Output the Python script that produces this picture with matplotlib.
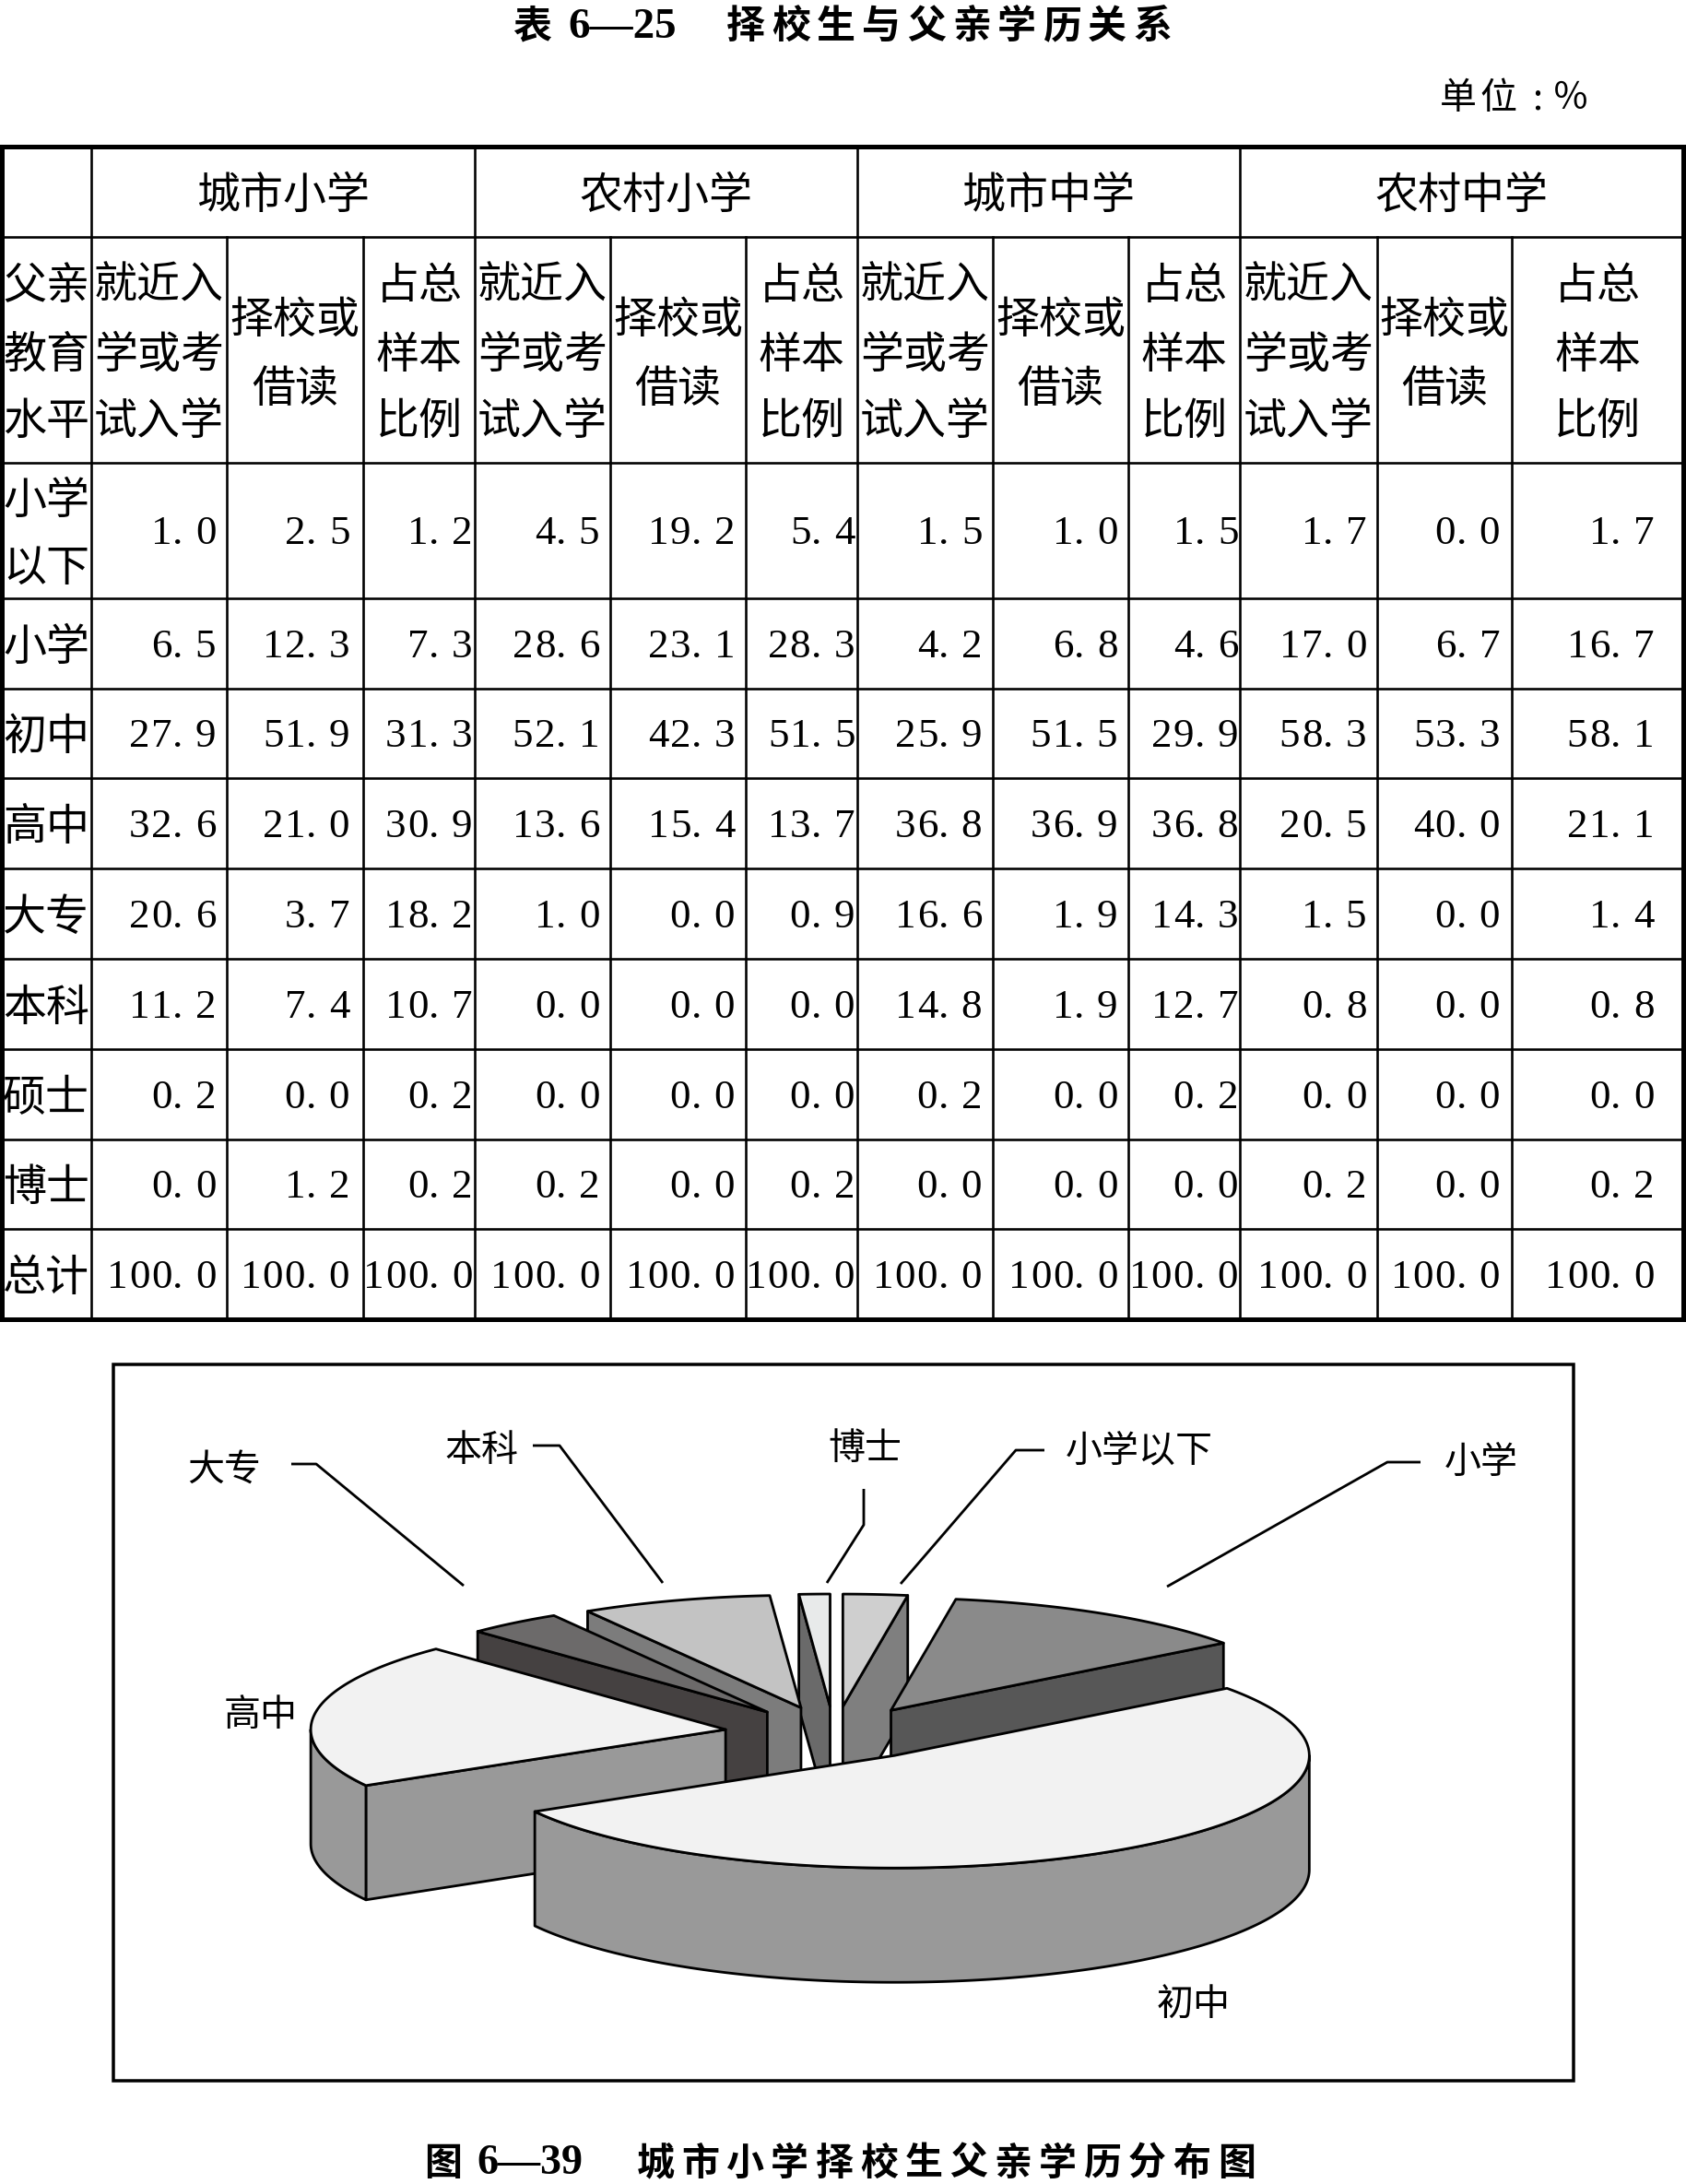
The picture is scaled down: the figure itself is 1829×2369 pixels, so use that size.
import numpy as np
import matplotlib
matplotlib.use('Agg')
import matplotlib.pyplot as plt
from matplotlib.patches import Polygon, Rectangle

plt.rcParams['font.family'] = ['Noto Sans CJK SC', 'DejaVu Sans']

# ---- data (表 6-25) ----
row_labels = ['小学以下', '小学', '初中', '高中', '大专', '本科', '硕士', '博士', '总计']
groups = ['城市小学', '农村小学', '城市中学', '农村中学']

city_primary_near = [1.0, 6.5, 27.9, 32.6, 20.6, 11.2, 0.2, 0.0, 100.0]
city_primary_choice = [2.5, 12.3, 51.9, 21.0, 3.7, 7.4, 0.0, 1.2, 100.0]
city_primary_share = [1.2, 7.3, 31.3, 30.9, 18.2, 10.7, 0.2, 0.2, 100.0]
rural_primary_near = [4.5, 28.6, 52.1, 13.6, 1.0, 0.0, 0.0, 0.2, 100.0]
rural_primary_choice = [19.2, 23.1, 42.3, 15.4, 0.0, 0.0, 0.0, 0.0, 100.0]
rural_primary_share = [5.4, 28.3, 51.5, 13.7, 0.9, 0.0, 0.0, 0.2, 100.0]
city_middle_near = [1.5, 4.2, 25.9, 36.8, 16.6, 14.8, 0.2, 0.0, 100.0]
city_middle_choice = [1.0, 6.8, 51.5, 36.9, 1.9, 1.9, 0.0, 0.0, 100.0]
city_middle_share = [1.5, 4.6, 29.9, 36.8, 14.3, 12.7, 0.2, 0.0, 100.0]
rural_middle_near = [1.7, 17.0, 58.3, 20.5, 1.5, 0.8, 0.0, 0.2, 100.0]
rural_middle_choice = [0.0, 6.7, 53.3, 40.0, 0.0, 0.0, 0.0, 0.0, 100.0]
rural_middle_share = [1.7, 16.7, 58.1, 21.1, 1.4, 0.8, 0.0, 0.2, 100.0]

table_cols = [city_primary_near, city_primary_choice, city_primary_share,
              rural_primary_near, rural_primary_choice, rural_primary_share,
              city_middle_near, city_middle_choice, city_middle_share,
              rural_middle_near, rural_middle_choice, rural_middle_share]

# pie (图 6-39): 城市小学 择校或借读
pie_labels = row_labels[:8]
pie_values = city_primary_choice[:8]
top_colors = ['#cfcfcf', '#8a8a8a', '#f2f2f2', '#f2f2f2', '#6c6a6a', '#c3c3c3', '#a0a0a0', '#e8eaea']
side_colors = ['#7f7f7f', '#575757', '#999999', '#999999', '#454141', '#7c7c7c', '#606060', '#6a6a6a']

# ---- figure in pixel coordinates ----
W, H = 1829, 2369
fig = plt.figure(figsize=(W / 100, H / 100), dpi=100)
ax = fig.add_axes([0, 0, 1, 1])
ax.set_xlim(0, W)
ax.set_ylim(H, 0)
ax.axis('off')

PT = 0.72  # points per pixel at dpi 100


def line(xs, ys, lw_px, z=5):
    ax.plot(xs, ys, color='black', lw=lw_px * PT, solid_capstyle='projecting', zorder=z)


def cjk(x, yc, s, size_px, ha='center', weight='normal'):
    ax.text(x, yc + 0.38 * size_px, s, fontsize=size_px * PT, ha=ha, va='baseline',
            fontweight=weight)


# ---- titles ----
TITLE_PX = 42
cjk(577, 25, '表', TITLE_PX, weight='bold')
ax.text(675, 25 + 0.33 * 47, '6—25', fontsize=47 * PT, family='Liberation Serif',
        fontweight='bold', ha='center', va='baseline')
for i, ch in enumerate('择校生与父亲学历关系'):
    cjk(809 + 49 * i, 25, ch, TITLE_PX, weight='bold')

UNIT_PX = 40
for ch, xc in zip(['单', '位', ':', '％'], [1582, 1625, 1668, 1704]):
    cjk(xc, 103, ch, UNIT_PX)

# ---- table ----
col_x = [2, 99, 246, 394, 515, 662, 809, 930, 1077, 1224, 1345, 1494, 1640, 1826]
row_y = [159, 257, 502, 649, 747, 844, 942, 1040, 1138, 1236, 1333, 1431]
THICK, THIN = 5, 2.6

line([col_x[0], col_x[-1]], [row_y[0]] * 2, THICK)
line([col_x[0], col_x[-1]], [row_y[-1]] * 2, THICK)
for y in row_y[1:-1]:
    line([col_x[0], col_x[-1]], [y] * 2, THIN)
line([col_x[0]] * 2, [row_y[0], row_y[-1]], THICK)
line([col_x[-1]] * 2, [row_y[0], row_y[-1]], THICK)
for j, x in enumerate(col_x[1:-1], start=1):
    top = row_y[0] if (j - 1) % 3 == 0 else row_y[1]
    line([x, x], [top, row_y[-1]], THIN)

CELL_PX = 47
for g, name in enumerate(groups):
    xc = (col_x[1 + 3 * g] + col_x[4 + 3 * g]) / 2
    cjk(xc, 208, name, CELL_PX)

sub_lines = {
    'near': (['就近入', '学或考', '试入学'], [306, 381, 453]),
    'choice': (['择校或', '借读'], [343, 418]),
    'share': (['占总', '样本', '比例'], [306, 381, 453]),
}
for t, y in zip(['父亲', '教育', '水平'], [306, 381, 453]):
    cjk(50, y, t, CELL_PX)
for j in range(12):
    kind = ['near', 'choice', 'share'][j % 3]
    xc = (col_x[j + 1] + col_x[j + 2]) / 2
    for t, y in zip(*sub_lines[kind]):
        cjk(xc, y, t, CELL_PX)

# row labels
for i, lab in enumerate(row_labels):
    y0, y1 = row_y[i + 2], row_y[i + 3]
    if len(lab) == 4:
        cjk(50, y0 + 37, lab[:2], CELL_PX)
        cjk(50, y1 - 37, lab[2:], CELL_PX)
    else:
        cjk(50, (y0 + y1) / 2, lab, CELL_PX)

# numbers: fixed pitch, right aligned
NUM_PITCH = 24
NUM_PX = 45
NUM_PAD = [12, 15, 3, 12, 12, 3, 12, 12, 2, 12, 13, 32]
for j, vals in enumerate(table_cols):
    x_right = col_x[j + 2] - NUM_PAD[j] + 1
    for i, v in enumerate(vals):
        yc = (row_y[i + 2] + row_y[i + 3]) / 2
        s = f'{v:.1f}'
        for k, ch in enumerate(reversed(s)):
            xc = x_right - (k + 0.5) * NUM_PITCH
            if ch == '.':
                xc -= 6
            ax.text(xc, yc + 0.33 * NUM_PX, ch, family='Liberation Serif',
                    fontsize=NUM_PX * PT, ha='center', va='baseline')

# ---- chart frame ----
ax.add_patch(Rectangle((123, 1480), 1707 - 123, 2257 - 1480, fill=False,
                       lw=3.5 * PT, ec='black', zorder=2))

# ---- exploded 3-D pie ----
PIE_CX, PIE_CY = 905, 1880
RX, RY, DEPTH = 450, 122, 124
EXP_X, EXP_Y = 119, 29
EDGE = 2.8 * PT


def rim(px, py, t):
    return px + RX * np.sin(t), py - RY * np.cos(t)


def arc(px, py, t0, t1, dy=0.0):
    ts = np.linspace(t0, t1, max(int(np.degrees(t1 - t0)) * 2, 4))
    xs, ys = rim(px, py, ts)
    return list(zip(xs, ys + dy))


slices = []
cum = 0.0
for lab, v, tc, sc in zip(pie_labels, pie_values, top_colors, side_colors):
    if v <= 0:
        continue
    t1 = np.radians(cum / 100 * 360)
    t2 = np.radians((cum + v) / 100 * 360)
    cum += v
    mid = (t1 + t2) / 2
    apx = PIE_CX + EXP_X * np.sin(mid)
    apy = PIE_CY - EXP_Y * np.cos(mid)
    slices.append(dict(t1=t1, t2=t2, mid=mid, ap=(apx, apy), top=tc, side=sc))

# back slices first
slices.sort(key=lambda s: -np.cos(s['mid']))
z = 10
for s in slices:
    apx, apy = s['ap']
    faces = []
    if np.sin(s['t1']) < -1e-6:
        faces.append(s['t1'])
    if np.sin(s['t2']) > 1e-6:
        faces.append(s['t2'])
    for t in faces:
        rx_, ry_ = rim(apx, apy, t)
        pts = [(apx, apy), (rx_, ry_), (rx_, ry_ + DEPTH), (apx, apy + DEPTH)]
        ax.add_patch(Polygon(pts, closed=True, fc=s['side'], ec='black', lw=EDGE,
                             joinstyle='round', zorder=z))
        z += 1
    a0 = max(s['t1'], np.pi / 2)
    a1 = min(s['t2'], 3 * np.pi / 2)
    if a1 > a0:
        pts = arc(apx, apy, a0, a1) + arc(apx, apy, a0, a1, DEPTH)[::-1]
        ax.add_patch(Polygon(pts, closed=True, fc=s['side'], ec='black', lw=EDGE,
                             joinstyle='round', zorder=z))
        z += 1
    pts = [(apx, apy)] + arc(apx, apy, s['t1'], s['t2'])
    ax.add_patch(Polygon(pts, closed=True, fc=s['top'], ec='black', lw=EDGE,
                         joinstyle='round', zorder=z))
    z += 1

# ---- pie labels and leader lines ----
LABEL_PX = 40
label_pos = {
    '大专': (243, 1590), '本科': (523, 1570), '博士': (938, 1568),
    '小学以下': (1236, 1570), '小学': (1607, 1583), '高中': (283, 1857),
    '初中': (1295, 2172),
}
leaders = {
    '大专': [(316, 1588), (343, 1588), (503, 1720)],
    '本科': [(578, 1568), (607, 1568), (719, 1717)],
    '博士': [(937, 1615), (937, 1654), (897, 1717)],
    '小学以下': [(1133, 1573), (1102, 1573), (977, 1718)],
    '小学': [(1541, 1586), (1505, 1586), (1266, 1721)],
}
for lab, (x, y) in label_pos.items():
    cjk(x, y, lab, LABEL_PX)
for lab, pts in leaders.items():
    xs, ys = zip(*pts)
    ax.plot(xs, ys, color='black', lw=2.8 * PT, solid_capstyle='butt', zorder=50)

# ---- caption ----
CAP_PX = 41
cjk(481, 2343, '图', CAP_PX, weight='bold')
ax.text(575, 2343 + 0.33 * 46, '6—39', fontsize=46 * PT, family='Liberation Serif',
        fontweight='bold', ha='center', va='baseline')
for i, ch in enumerate('城市小学择校生父亲学历分布图'):
    cjk(711 + 48.5 * i, 2343, ch, CAP_PX, weight='bold')

fig.savefig('out.png', dpi=100, facecolor='white')
